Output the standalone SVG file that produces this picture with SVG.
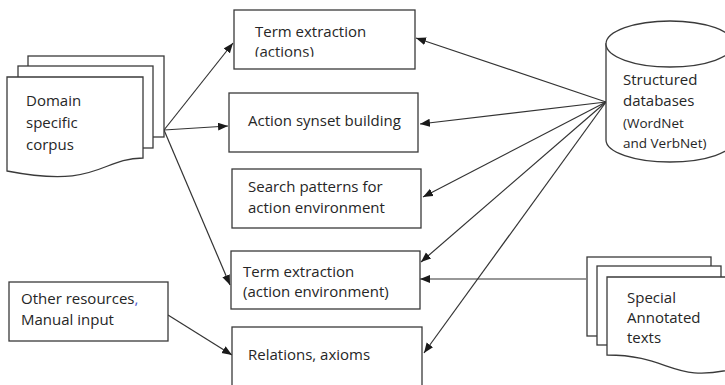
<svg xmlns="http://www.w3.org/2000/svg" width="725" height="385" viewBox="0 0 725 385">
  <defs>
    <style>
      .shape { fill: #ffffff; stroke: #3a3a3a; stroke-width: 1.3; }
      .edge { fill: none; stroke: #333333; stroke-width: 1.2; marker-end: url(#arrow); }
      .plain { fill: none; stroke: #333333; stroke-width: 1.2; }
      text { font-family: "Open Sans", "Liberation Sans", sans-serif; font-size: 15px; fill: #262626; }
      .small { font-size: 13.5px; }
    </style>
    <marker id="arrow" markerUnits="userSpaceOnUse" markerWidth="11" markerHeight="9" refX="10" refY="4" orient="auto">
      <path d="M0,0 L10,4 L0,8 Z" fill="#1a1a1a"/>
    </marker>
    <clipPath id="clipActions">
      <rect x="234" y="10" width="181" height="46.8"/>
    </clipPath>
  </defs>

  <rect width="725" height="385" fill="#ffffff"/>

  <!-- connectors -->
  <g id="connectors">
    <line class="edge" x1="164" y1="130" x2="233" y2="43"/>
    <line class="edge" x1="164" y1="130" x2="228" y2="126"/>
    <line class="edge" x1="164" y1="130" x2="230" y2="285"/>
    <line class="edge" x1="606" y1="102" x2="416" y2="38"/>
    <line class="edge" x1="606" y1="102" x2="420" y2="124"/>
    <line class="edge" x1="606" y1="102" x2="423" y2="197"/>
    <line class="edge" x1="606" y1="102" x2="421" y2="262"/>
    <line class="edge" x1="606" y1="102" x2="424" y2="353"/>
    <line class="edge" x1="586" y1="279" x2="420" y2="279"/>
    <line class="edge" x1="168" y1="315" x2="232" y2="355"/>
  </g>

  <!-- domain corpus: stacked documents -->
  <g id="corpus">
    <rect class="shape" x="28" y="56" width="136" height="81"/>
    <rect class="shape" x="18" y="66" width="135" height="82"/>
    <path class="shape" d="M7,77 H143 V158 C100,158 100,189 7,171 Z"/>
    <text x="26" y="106">Domain</text>
    <text x="26" y="128">specific</text>
    <text x="26" y="150">corpus</text>
  </g>

  <g id="term-actions">
    <rect class="shape" x="234" y="10" width="181" height="59"/>
    <g clip-path="url(#clipActions)">
      <text x="255" y="37">Term extraction</text>
      <text x="255" y="57">(actions)</text>
    </g>
  </g>

  <g id="synset">
    <rect class="shape" x="229" y="93" width="189" height="59"/>
    <text x="248" y="126">Action synset building</text>
  </g>

  <g id="search-patterns">
    <rect class="shape" x="232" y="169" width="189" height="59"/>
    <text x="248" y="192">Search patterns for</text>
    <text x="248" y="213">action environment</text>
  </g>

  <g id="term-environment">
    <rect class="shape" x="231" y="251" width="189" height="58"/>
    <text x="243" y="277">Term extraction</text>
    <text x="243" y="297">(action environment)</text>
  </g>

  <g id="relations">
    <rect class="shape" x="232" y="327" width="190" height="70"/>
    <text x="248" y="360">Relations, axioms</text>
  </g>

  <g id="other-resources">
    <rect class="shape" x="9" y="282" width="159" height="59"/>
    <text x="21" y="304">Other resources<tspan fill="#4a58c8">,</tspan></text>
    <text x="21" y="325">Manual input</text>
  </g>

  <!-- database cylinder -->
  <g id="databases">
    <path class="shape" d="M606,44 V140 A64,22 0 0 0 734,140 V44 Z"/>
    <ellipse class="shape" cx="670" cy="44" rx="64" ry="23"/>
    <text x="623" y="85">Structured</text>
    <text x="623" y="106">databases</text>
    <text class="small" x="623" y="128">(WordNet</text>
    <text class="small" x="623" y="148">and VerbNet)</text>
  </g>

  <!-- special annotated texts: stacked documents -->
  <g id="annotated">
    <rect class="shape" x="587" y="257" width="124" height="79"/>
    <rect class="shape" x="597" y="266" width="124" height="79"/>
    <path class="shape" d="M607,277 H737 V368 C672,385 672,355 607,355 Z"/>
    <text x="627" y="303">Special</text>
    <text x="627" y="323">Annotated</text>
    <text x="627" y="343">texts</text>
  </g>
</svg>
